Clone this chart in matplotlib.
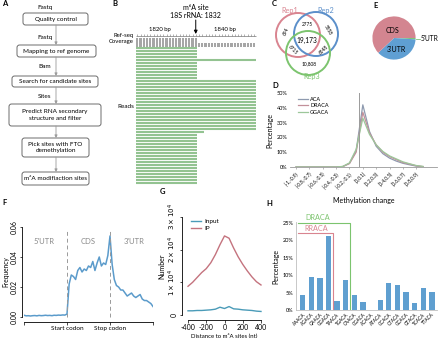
import numpy as np
import matplotlib
matplotlib.use("Agg")
import matplotlib.pyplot as plt
from matplotlib.patches import FancyBboxPatch, Circle

plt.rcParams['font.family'] = ['Lato', 'DejaVu Sans']
plt.rcParams['font.size'] = 5
plt.rcParams['axes.linewidth'] = 0.6

W, H = 440, 338

# ---------------- data ----------------
# A: pipeline
flow_steps = ["Quality control", "Mapping to ref genome", "Search for candidate sites",
              "Predict RNA secondary\nstructure and filter", "Pick sites with FTO\ndemethylation",
              "m\u2076A modifiaction sites"]
flow_files = ["Fastq", "Fastq", "Bam", "Sites"]

# B: read alignment around 18S rRNA 1832
read_start = 1813
read_ends = [1831, 1831, 1831, 1831, 1849, 1831, 1831, 1831, 1831, 1831, 1831,
             1849, 1849, 1849, 1849, 1849, 1849, 1849, 1849, 1849, 1849, 1849,
             1849, 1849, 1849, 1849, 1849, 1849, 1833, 1831, 1831, 1831, 1831,
             1831, 1831, 1831, 1831, 1831, 1831, 1831, 1831, 1831, 1831, 1831,
             1831, 1831]
ref_end = 1849
m6a_pos = 1832

# C: venn
venn_labels = ["Rep1", "Rep2", "Rep3"]
venn_counts = ["694", "2775", "5858", "19,173", "6715", "6848", "10,808"]

# E: pie
pie_labels = ["5'UTR", "3'UTR", "CDS"]
pie_values = [1.0, 37.0, 62.0]

# D: methylation change distribution
d_bins = ["[-1,-0.9)", "[-0.9,-0.8)", "[-0.8,-0.7)", "[-0.7,-0.6)", "[-0.6,-0.5)",
          "[-0.5,-0.4)", "[-0.4,-0.3)", "[-0.3,-0.2)", "[-0.2,-0.1)", "[-0.1,0)",
          "[0,0.1)", "[0.1,0.2)", "[0.2,0.3)", "[0.3,0.4)", "[0.4,0.5)",
          "[0.5,0.6)", "[0.6,0.7)", "[0.7,0.8)", "[0.8,0.9)", "[0.9,1]"]
d_aca = [0, 0, 0, 0, 0, 0, 0, 0.3, 2.5, 11, 42, 24, 14, 9, 6, 4, 2.5, 1.5, 0.6, 0.2]
d_draca = [0, 0, 0, 0, 0, 0, 0, 0.3, 2.3, 10, 37, 23, 15, 10, 7, 5, 3, 2, 0.8, 0.3]
d_ggaca = [0, 0, 0, 0, 0, 0, 0, 0.4, 2.8, 12, 33, 22, 15, 10.5, 7.5, 5.5, 3.5, 2.2, 1.0, 0.4]

# F: metagene
f_freq = [0.0012, 0.0008, 0.0009, 0.0007, 0.0009, 0.0010, 0.0008, 0.0011, 0.0009, 0.0010,
          0.0012, 0.0010, 0.0011, 0.0009, 0.0012, 0.0011, 0.0013, 0.0012, 0.0014, 0.0013,
          0.0020, 0.022, 0.028, 0.027, 0.025, 0.031, 0.033, 0.030, 0.032, 0.031,
          0.034, 0.033, 0.037, 0.031, 0.036, 0.040, 0.034, 0.036, 0.035, 0.041,
          0.054, 0.035, 0.025, 0.021, 0.020, 0.018, 0.018, 0.016, 0.014, 0.015,
          0.016, 0.014, 0.013, 0.014, 0.015, 0.012, 0.011, 0.011, 0.010, 0.009, 0.007]
f_x = np.linspace(0, 3, len(f_freq))

# G: reads around m6A sites
g_dist = [-400, -350, -300, -250, -200, -150, -100, -50, 0, 50, 100, 150, 200, 250, 300, 350, 400]
g_input = [1300, 1300, 1400, 1400, 1500, 1600, 1800, 2400, 2000, 2600, 1900, 1800, 1600, 1500, 1400, 1200, 1100]
g_ip = [8800, 10000, 11500, 13000, 14200, 16000, 18500, 21500, 24200, 23500, 20500, 17800, 15500, 13500, 11700, 10200, 9200]

# H: motif percentages
h_motifs = ["AAACA", "AGACA", "GAACA", "GGACA", "TAACA", "TGACA", "CAACA", "CGACA",
            "ACACA", "ATACA", "CCACA", "CTACA", "GCACA", "GTACA", "TCACA", "TTACA"]
h_pct = [4.3, 9.4, 9.1, 21.3, 2.6, 8.7, 4.3, 2.2, 0.0, 2.9, 7.9, 7.3, 5.2, 2.1, 6.2, 5.2]

# ---------------- figure ----------------
fig = plt.figure(figsize=(4.4, 3.38), dpi=100)


def px_rect(x0, y0, x1, y1):
    return [x0 / W, 1 - y1 / H, (x1 - x0) / W, (y1 - y0) / H]


def letter(x, y, s):
    fig.text(x / W, 1 - y / H, s, fontsize=5.5, fontweight='bold', va='center', ha='left')


def rot_yticks(ax):
    ax.tick_params(axis='y', labelrotation=90)
    for t in ax.get_yticklabels():
        t.set_verticalalignment('center')


for s, (x, y) in zip("ABCEDFGH", [(2, 4), (112, 4), (272, 4), (373, 6), (272, 86),
                                   (2, 202), (160, 192), (266, 203)]):
    letter(x, y, s)

# ---- A: flowchart ----
axA = fig.add_axes(px_rect(0, 0, 110, 190))
axA.set_xlim(0, 110)
axA.set_ylim(190, 0)
axA.axis('off')
boxes = [(23, 13, 88, 25), (17, 45, 96, 57), (12, 76, 98, 87),
         (9, 104, 101, 126), (22, 138, 89, 157), (22, 172, 89, 185)]
for (x0, y0, x1, y1), txt in zip(boxes, flow_steps):
    axA.add_patch(FancyBboxPatch((x0, y0), x1 - x0, y1 - y0,
                                 boxstyle="round,pad=0,rounding_size=2.5",
                                 fc='white', ec='#555555', lw=0.6))
    axA.text((x0 + x1) / 2, (y0 + y1) / 2, txt, ha='center', va='center',
             fontsize=4.6, linespacing=1.4)
for i in range(len(boxes) - 1):
    axA.annotate("", xy=(56, boxes[i + 1][1]), xytext=(56, boxes[i][3]),
                 arrowprops=dict(arrowstyle='-|>', color='#9a9a9a', lw=0.6,
                                 mutation_scale=4, shrinkA=0, shrinkB=0))
file_y = [7, 37, 67, 96]
for y, f in zip(file_y, flow_files):
    axA.text(45, y, f, ha='center', va='center', fontsize=4.6)

# ---- B: reads ----
axB = fig.add_axes(px_rect(110, 0, 270, 190))
bp_px = 3.25
axB.set_xlim(1820 - 50 / bp_px, 1820 + 110 / bp_px)
axB.set_ylim(190, 0)
axB.axis('off')
row_y = 48 + 3 * np.arange(len(read_ends))
axB.hlines(row_y, read_start - 0.5, np.array(read_ends) + 0.5, color='#93c391', lw=1.5)
pos = np.arange(read_start, ref_end + 1)
cov = np.array([sum(1 for e in read_ends if e >= p) for p in pos])
axB.bar(pos, -cov / len(read_ends) * 9, bottom=47, width=0.75, color='#a6a6a6')
# ruler
axB.hlines(36, read_start - 0.5, ref_end + 0.5, color='#777777', lw=0.5)
axB.vlines(pos, 34, 36, color='#777777', lw=0.4)
axB.text(1820, 29, "1820 bp", ha='center', va='center', fontsize=4.3)
axB.text(1840, 29, "1840 bp", ha='center', va='center', fontsize=4.3)
axB.text(1820 - 26 / bp_px, 35, "Ref-seq", ha='right', va='center', fontsize=4.3)
axB.text(1820 - 26 / bp_px, 42, "Coverage", ha='right', va='center', fontsize=4.3)
axB.text(1820 - 26 / bp_px, 107, "Reads", ha='right', va='center', fontsize=4.6)
axB.text(m6a_pos - 1, 7, "m\u2076A site", ha='center', va='center', fontsize=5)
axB.text(m6a_pos - 1, 16, "18S rRNA: 1832", ha='center', va='center', fontsize=5)
axB.annotate("", xy=(m6a_pos - 1, 34), xytext=(m6a_pos - 1, 20),
             arrowprops=dict(arrowstyle='-|>', color='black', lw=0.7,
                             mutation_scale=5, shrinkA=0, shrinkB=0))

# ---- C: venn ----
axC = fig.add_axes(px_rect(272, 0, 352, 82))
axC.set_xlim(272, 352)
axC.set_ylim(82, 0)
axC.axis('off')
venn_cols = ['#d98490', '#5b8fca', '#7cc46e']
centers = [(298, 35), (316, 34), (308, 53)]
for (cx, cy), c in zip(centers, venn_cols):
    axC.add_patch(Circle((cx, cy), 22, fill=False, ec=c, lw=1.4))
for (x, y), lab, c in zip([(290, 10), (326, 10), (312, 77)], venn_labels, venn_cols):
    axC.text(x, y, lab, color=c, ha='center', va='center', fontsize=5.2)
num_pos = [(286, 32, 65), (307, 24, 0), (328, 30, -60), (307, 40, 0),
           (293, 50, -45), (324, 50, 45), (309, 64, 0)]
for (x, y, r), n in zip(num_pos, venn_counts):
    big = n == "19,173"
    axC.text(x, y, n, ha='center', va='center', rotation=r,
             fontsize=4.8 if big else 3.4)

# ---- E: pie ----
axE = fig.add_axes(px_rect(367, 11, 421, 65))
wedges, _ = axE.pie(pie_values, colors=['#7dc47a', '#5f9fd3', '#d38590'],
                    startangle=0, counterclock=False,
                    wedgeprops=dict(linewidth=0))
axE.set_aspect('equal')
axE.text(-0.05, 0.35, "CDS", ha='center', va='center', fontsize=5)
axE.text(0.1, -0.55, "3'UTR", ha='center', va='center', fontsize=5)
axE.plot([1.0, 1.2], [-0.03, -0.03], color='#7dc47a', lw=0.6, clip_on=False)
axE.text(1.22, -0.03, "5'UTR", ha='left', va='center', fontsize=4.8)

# ---- D: line chart ----
axD = fig.add_axes(px_rect(290, 93, 437, 167))
xs = np.arange(len(d_bins))
for vals, c, lab in [(d_aca, '#8e9aaf', 'ACA'), (d_draca, '#c2909a', 'DRACA'),
                     (d_ggaca, '#9cc79a', 'GGACA')]:
    axD.plot(xs, vals, color=c, lw=0.9, label=lab)
axD.axvline(9.5, ymin=0, ymax=1, color='#9a9a9a', lw=0.7)
axD.set_xlim(-0.9, 21.1)
axD.set_ylim(0, 50)
axD.set_yticks([0, 10, 20, 30, 40, 50])
axD.set_yticklabels([f"{v}%" for v in [0, 10, 20, 30, 40, 50]], fontsize=4)
axD.set_xticks(xs[::2])
axD.set_xticklabels(d_bins[::2], rotation=45, ha='right', fontsize=3.4, rotation_mode='anchor')
axD.tick_params(axis='y', length=0, pad=2)
axD.tick_params(axis='x', length=1.5, width=0.4, color='#888888', pad=1.5)
for s in ['top', 'right', 'left']:
    axD.spines[s].set_visible(False)
axD.spines['bottom'].set_color('#999999')
axD.set_ylabel("Percentage", fontsize=5, labelpad=2)
axD.set_xlabel("Methylation change", fontsize=5, labelpad=5)
axD.legend(loc='upper left', bbox_to_anchor=(0.02, 1.02), frameon=False, fontsize=4,
           handlelength=1.8, handletextpad=0.4, labelspacing=0.3)

# ---- F: metagene ----
axF = fig.add_axes(px_rect(24, 222, 153, 322))
axF.plot(f_x, f_freq, color='#5b9bcb', lw=1.1)
axF.set_xlim(0, 3)
axF.set_ylim(-0.0033, 0.0633)
for xv in [1, 2]:
    axF.plot([xv, xv], [0, 0.058], color='#9a9a9a', lw=0.7, ls=(0, (4, 3)))
for xv, lab in zip([0.47, 1.5, 2.55], ["5'UTR", "CDS", "3'UTR"]):
    axF.text(xv, 0.05, lab, color='#8a8a8a', ha='center', va='center', fontsize=5.5)
axF.set_xticks([0, 1, 2, 3])
axF.set_xticklabels(['', 'Start codon', 'Stop codon', ''], fontsize=4.6)
axF.set_yticks([0, 0.02, 0.04, 0.06])
axF.set_yticklabels(['0.00', '0.02', '0.04', '0.06'], fontsize=4.2)
for s in ['top', 'right']:
    axF.spines[s].set_visible(False)
axF.spines['left'].set_position(('outward', 1.5))
axF.spines['left'].set_bounds(0, 0.06)
axF.spines['bottom'].set_bounds(0, 3)
axF.tick_params(length=1.8, width=0.5, pad=1)
rot_yticks(axF)
axF.set_ylabel("Frequency", fontsize=4.8, labelpad=1)

# ---- G: profile ----
axG = fig.add_axes(px_rect(185, 215, 264, 318))
axG.plot(g_dist, g_input, color='#4a9bb8', lw=1.0, label='Input')
axG.plot(g_dist, g_ip, color='#c4737e', lw=1.0, label='IP')
axG.set_xlim(-433, 433)
axG.set_ylim(-900, 30600)
axG.set_xticks([-400, -200, 0, 200, 400])
axG.set_xticklabels(['-400', '-200', '0', '200', '400'], fontsize=4)
axG.set_yticks([0, 10000, 20000, 30000])
axG.set_yticklabels(['0', r'$1\times10^4$', r'$2\times10^4$', r'$3\times10^4$'], fontsize=3.8)
for s in ['top', 'right']:
    axG.spines[s].set_visible(False)
axG.spines['left'].set_position(('outward', 2.5))
axG.spines['left'].set_bounds(0, 30000)
axG.spines['bottom'].set_position(('outward', 1.5))
axG.spines['bottom'].set_bounds(-400, 400)
axG.tick_params(length=1.8, width=0.5, pad=1)
rot_yticks(axG)
axG.set_ylabel("Number", fontsize=5, labelpad=1)
axG.set_xlabel("Distance to m\u2076A sites (nt)", fontsize=4.3, labelpad=1)
axG.legend(loc='upper left', bbox_to_anchor=(0.0, 1.02), frameon=False, fontsize=4.6,
           handlelength=1.6, handletextpad=0.5, labelspacing=0.2)

# ---- H: bars ----
axH = fig.add_axes(px_rect(296, 222, 437, 310))
hx = np.arange(len(h_motifs))
axH.bar(hx, h_pct, width=0.62, color='#5f9fd0')
axH.set_xlim(-0.78, 15.6)
axH.set_ylim(0, 25.3)
axH.set_yticks([0, 5, 10, 15, 20, 25])
axH.set_yticklabels([f"{v}%" for v in [0, 5, 10, 15, 20, 25]], fontsize=4)
axH.set_xticks(hx)
axH.set_xticklabels(h_motifs, rotation=45, ha='right', fontsize=3.3, rotation_mode='anchor')
axH.tick_params(axis='y', length=0, pad=2)
axH.tick_params(axis='x', length=0, pad=1.5)
for s in ['top', 'right']:
    axH.spines[s].set_visible(False)
axH.spines['left'].set_color('#bfbfbf')
axH.spines['bottom'].set_color('#bfbfbf')
axH.plot([-0.5, 5.45, 5.45], [25, 25, 0.3], color='#7cc46e', lw=0.8, clip_on=False)
axH.plot([-0.5, 3.5, 3.5], [22.1, 22.1, 0.3], color='#d98490', lw=0.8, clip_on=False)
axH.text(1.7, 26.5, "DRACA", color='#7cc46e', ha='center', va='center', fontsize=5.2)
axH.text(1.6, 23.4, "RRACA", color='#d98490', ha='center', va='center', fontsize=5.2)
axH.set_ylabel("Percentage", fontsize=5, labelpad=2)

fig.savefig("out.png", dpi=100)
